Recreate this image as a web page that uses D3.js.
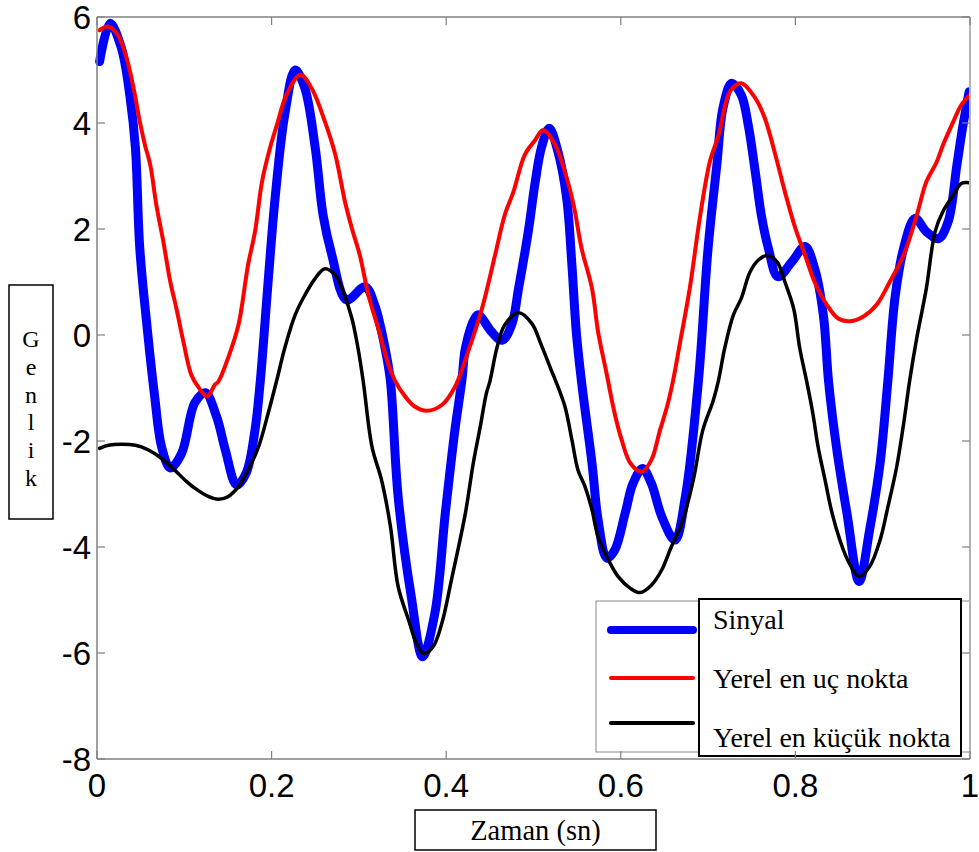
<!DOCTYPE html>
<html>
<head>
<meta charset="utf-8">
<script src="https://cdn.jsdelivr.net/npm/d3@7"></script>
<style>
  html, body { margin: 0; padding: 0; background: #fff; }
  svg { display: block; }
</style>
</head>
<body>
<svg id="chart" width="979" height="852"></svg>
<script>
// ---- data (time in s, amplitude) ----
const xTicks = [0, 0.2, 0.4, 0.6, 0.8, 1];
const xTickLabels = ["0", "0.2", "0.4", "0.6", "0.8", "1"];
const yTicks = [-8, -6, -4, -2, 0, 2, 4, 6];
const yTickLabels = ["-8", "-6", "-4", "-2", "0", "2", "4", "6"];
const seriesNames = ["Sinyal", "Yerel en uç nokta", "Yerel en küçük nokta"];
const xLabel = "Zaman (sn)";
const yLabel = "Genlik";

const signal = [
  [0.003,5.16],[0.015,5.88],[0.028,5.41],[0.038,4.47],[0.044,3.53],[0.049,1.64],[0.058,0.05],
  [0.066,-1.15],[0.074,-2.11],[0.084,-2.51],[0.097,-2.23],[0.112,-1.28],[0.124,-1.09],[0.137,-1.54],
  [0.147,-2.17],[0.160,-2.83],[0.171,-2.60],[0.181,-1.79],[0.187,-0.88],[0.196,1.0],[0.204,2.58],
  [0.215,4.15],[0.227,5.0],[0.238,4.66],[0.250,3.53],[0.259,2.26],[0.269,1.51],[0.286,0.66],
  [0.307,0.91],[0.318,0.57],[0.330,-0.25],[0.336,-0.85],[0.345,-3.06],[0.360,-4.94],[0.373,-6.07],
  [0.387,-5.25],[0.399,-3.36],[0.410,-1.79],[0.418,-0.85],[0.422,-0.25],[0.433,0.32],[0.437,0.38],
  [0.452,0.06],[0.464,-0.10],[0.475,0.19],[0.483,0.89],[0.494,1.95],[0.502,2.89],[0.509,3.53],
  [0.518,3.90],[0.528,3.46],[0.538,2.58],[0.544,1.32],[0.549,0.06],[0.555,-0.88],[0.567,-2.42],
  [0.574,-3.49],[0.584,-4.21],[0.593,-4.06],[0.605,-3.36],[0.614,-2.80],[0.625,-2.52],[0.635,-2.80],
  [0.647,-3.43],[0.662,-3.87],[0.674,-3.05],[0.689,-0.85],[0.700,1.64],[0.710,3.21],[0.717,4.28],
  [0.727,4.75],[0.738,4.53],[0.746,3.96],[0.754,3.08],[0.761,2.26],[0.769,1.64],[0.780,1.10],
  [0.796,1.38],[0.811,1.67],[0.822,1.26],[0.832,0.38],[0.838,-0.88],[0.847,-2.11],[0.859,-3.36],
  [0.873,-4.65],[0.885,-3.68],[0.897,-2.42],[0.906,-0.85],[0.914,0.69],[0.924,1.64],[0.937,2.20],
  [0.950,1.95],[0.964,1.82],[0.975,2.14],[0.985,3.21],[0.992,3.96],[0.999,4.59]
];

const upper = [
  [0.003,5.75],[0.013,5.82],[0.024,5.66],[0.034,5.22],[0.042,4.65],[0.049,4.03],[0.055,3.58],
  [0.061,3.21],[0.068,2.45],[0.076,1.76],[0.084,1.0],[0.091,0.50],[0.099,-0.13],[0.108,-0.75],
  [0.116,-0.98],[0.126,-1.16],[0.135,-0.94],[0.139,-0.88],[0.150,-0.44],[0.162,0.19],[0.173,1.32],
  [0.181,1.95],[0.189,2.89],[0.198,3.52],[0.206,3.96],[0.217,4.53],[0.233,4.91],[0.246,4.65],
  [0.261,4.03],[0.273,3.40],[0.284,2.52],[0.292,2.01],[0.301,1.51],[0.311,0.75],[0.322,0.13],
  [0.334,-0.57],[0.341,-0.85],[0.353,-1.16],[0.364,-1.35],[0.378,-1.43],[0.395,-1.32],[0.410,-0.98],
  [0.425,-0.32],[0.441,0.50],[0.456,1.51],[0.467,2.26],[0.477,2.70],[0.490,3.40],[0.502,3.68],
  [0.511,3.87],[0.525,3.58],[0.536,3.08],[0.546,2.45],[0.555,1.64],[0.567,0.88],[0.574,0.06],
  [0.584,-0.75],[0.593,-1.48],[0.601,-1.98],[0.611,-2.42],[0.624,-2.58],[0.635,-2.36],[0.645,-1.79],
  [0.653,-1.35],[0.660,-0.85],[0.668,-0.13],[0.679,0.88],[0.691,2.26],[0.702,3.27],[0.712,3.77],
  [0.725,4.59],[0.738,4.75],[0.754,4.47],[0.765,4.09],[0.777,3.40],[0.788,2.70],[0.800,2.01],
  [0.811,1.51],[0.822,1.0],[0.836,0.57],[0.849,0.31],[0.863,0.26],[0.878,0.35],[0.893,0.57],
  [0.908,1.0],[0.924,1.51],[0.939,2.26],[0.950,2.89],[0.962,3.27],[0.969,3.58],[0.981,4.03],
  [0.990,4.34],[1.0,4.53]
];

const lower = [
  [0.003,-2.14],[0.013,-2.08],[0.044,-2.08],[0.059,-2.17],[0.074,-2.33],[0.089,-2.55],[0.101,-2.74],
  [0.112,-2.89],[0.128,-3.05],[0.139,-3.10],[0.150,-3.05],[0.162,-2.86],[0.173,-2.55],[0.185,-2.11],
  [0.196,-1.48],[0.206,-0.85],[0.215,-0.25],[0.227,0.38],[0.238,0.75],[0.250,1.07],[0.261,1.25],
  [0.273,1.13],[0.282,0.82],[0.292,0.31],[0.299,-0.25],[0.305,-0.88],[0.315,-2.11],[0.326,-2.74],
  [0.336,-3.60],[0.345,-4.75],[0.357,-5.38],[0.366,-5.82],[0.374,-6.01],[0.385,-5.88],[0.395,-5.44],
  [0.406,-4.62],[0.422,-3.36],[0.431,-2.42],[0.439,-1.73],[0.446,-1.10],[0.450,-0.88],[0.458,-0.25],
  [0.467,0.19],[0.483,0.42],[0.498,0.22],[0.509,-0.19],[0.521,-0.69],[0.525,-0.85],[0.536,-1.35],
  [0.544,-1.98],[0.551,-2.55],[0.559,-2.86],[0.567,-3.30],[0.574,-3.81],[0.586,-4.25],[0.597,-4.56],
  [0.611,-4.78],[0.622,-4.86],[0.635,-4.72],[0.647,-4.43],[0.658,-3.99],[0.670,-3.55],[0.683,-2.74],
  [0.694,-1.79],[0.706,-1.23],[0.712,-0.85],[0.719,-0.25],[0.729,0.38],[0.738,0.69],[0.748,1.19],
  [0.758,1.42],[0.768,1.50],[0.779,1.38],[0.788,1.0],[0.798,0.50],[0.805,-0.25],[0.813,-0.88],
  [0.820,-1.48],[0.826,-2.11],[0.834,-2.74],[0.842,-3.36],[0.851,-3.87],[0.860,-4.25],[0.873,-4.56],
  [0.885,-4.37],[0.897,-3.87],[0.906,-3.24],[0.916,-2.49],[0.924,-1.67],[0.931,-0.85],[0.939,-0.06],
  [0.950,0.88],[0.960,1.95],[0.969,2.33],[0.981,2.64],[0.990,2.86],[1.0,2.87]
];

// ---- layout ----
const svg = d3.select("#chart");
const pLeft = 97, pRight = 970, pTop = 17, pBottom = 759;
const x = d3.scaleLinear().domain([0, 1]).range([pLeft, pRight]);
const y = d3.scaleLinear().domain([-8, 6]).range([pBottom, pTop]);
const serif = "'Liberation Serif', 'Times New Roman', Times, serif";

svg.append("defs").append("clipPath").attr("id", "plotclip")
  .append("rect").attr("x", pLeft - 3).attr("y", pTop - 3)
  .attr("width", pRight - pLeft + 3).attr("height", pBottom - pTop + 6);

const line = d3.line().x(d => x(d[0])).y(d => y(d[1])).curve(d3.curveCatmullRom.alpha(0.5));

const series = [
  { data: signal, color: "#0000ff", width: 9 },
  { data: upper, color: "#ff0000", width: 4 },
  { data: lower, color: "#000000", width: 3.5 }
];

const plot = svg.append("g").attr("clip-path", "url(#plotclip)");
series.forEach(s => {
  plot.append("path").datum(s.data)
    .attr("d", line)
    .attr("fill", "none")
    .attr("stroke", s.color)
    .attr("stroke-width", s.width)
    .attr("stroke-linejoin", "round")
    .attr("stroke-linecap", "round");
});

// ---- legend ----
const lg = svg.append("g");
lg.append("rect").attr("x", 596).attr("y", 601).attr("width", 374).attr("height", 151)
  .attr("fill", "#fff").attr("stroke", "#888").attr("stroke-width", 1);
const legendYs = [630, 678, 723];
series.forEach((s, i) => {
  lg.append("line").attr("x1", 611).attr("x2", 693)
    .attr("y1", legendYs[i]).attr("y2", legendYs[i])
    .attr("stroke", s.color).attr("stroke-width", i === 0 ? 8 : 4)
    .attr("stroke-linecap", "round");
});
lg.append("rect").attr("x", 699).attr("y", 599).attr("width", 262).attr("height", 157)
  .attr("fill", "#fff").attr("stroke", "#000").attr("stroke-width", 2);
const textYs = [629, 688, 747];
seriesNames.forEach((n, i) => {
  lg.append("text").attr("x", 713).attr("y", textYs[i])
    .attr("font-family", serif)
    .attr("font-size", 28).attr("fill", "#000").text(n);
});

// ---- axes box and ticks ----
const axisColor = "#808080";
const tl = 8;
const ax = svg.append("g");
ax.append("line").attr("x1", pLeft).attr("x2", pRight).attr("y1", pTop).attr("y2", pTop)
  .attr("stroke", axisColor).attr("stroke-width", 1.5);
ax.append("line").attr("x1", pLeft).attr("x2", pRight).attr("y1", pBottom).attr("y2", pBottom)
  .attr("stroke", axisColor).attr("stroke-width", 1.5);
ax.append("line").attr("x1", pLeft).attr("x2", pLeft).attr("y1", pTop).attr("y2", pBottom)
  .attr("stroke", axisColor).attr("stroke-width", 1.5);
ax.append("line").attr("x1", pRight).attr("x2", pRight).attr("y1", pTop).attr("y2", pBottom)
  .attr("stroke", "#b4b4b4").attr("stroke-width", 2);

xTicks.forEach(t => {
  ax.append("line").attr("x1", x(t)).attr("x2", x(t)).attr("y1", pBottom).attr("y2", pBottom - tl)
    .attr("stroke", axisColor).attr("stroke-width", 1.2);
  ax.append("line").attr("x1", x(t)).attr("x2", x(t)).attr("y1", pTop).attr("y2", pTop + tl)
    .attr("stroke", axisColor).attr("stroke-width", 1.2);
});
yTicks.forEach(v => {
  ax.append("line").attr("x1", pLeft).attr("x2", pLeft + tl).attr("y1", y(v)).attr("y2", y(v))
    .attr("stroke", axisColor).attr("stroke-width", 1.2);
  ax.append("line").attr("x1", pRight).attr("x2", pRight - tl).attr("y1", y(v)).attr("y2", y(v))
    .attr("stroke", axisColor).attr("stroke-width", 1.2);
});

const tickFont = "'Liberation Sans', Arial, Helvetica, sans-serif";
xTicks.forEach((t, i) => {
  svg.append("text").attr("x", x(t)).attr("y", 797)
    .attr("text-anchor", "middle").attr("font-family", tickFont).attr("font-size", 33)
    .attr("fill", "#000").text(xTickLabels[i]);
});
yTicks.forEach((v, i) => {
  svg.append("text").attr("x", 91).attr("y", y(v) + 12)
    .attr("text-anchor", "end").attr("font-family", tickFont).attr("font-size", 33)
    .attr("fill", "#000").text(yTickLabels[i]);
});

// ---- axis labels in boxes ----
svg.append("rect").attr("x", 415).attr("y", 810).attr("width", 241).attr("height", 40)
  .attr("fill", "#fff").attr("stroke", "#000").attr("stroke-width", 1.5);
svg.append("text").attr("x", 535.5).attr("y", 840).attr("text-anchor", "middle")
  .attr("font-family", serif).attr("font-size", 28.5)
  .attr("fill", "#000").text(xLabel);

svg.append("rect").attr("x", 9).attr("y", 285).attr("width", 44).attr("height", 234)
  .attr("fill", "#fff").attr("stroke", "#000").attr("stroke-width", 1.5);
const yl = svg.append("text").attr("font-family", serif).attr("font-size", 24)
  .attr("fill", "#000").attr("text-anchor", "middle");
Array.from(yLabel).forEach((ch, i) => {
  yl.append("tspan").attr("x", 31).attr("y", 347 + i * 27.8).text(ch);
});
</script>
</body>
</html>
